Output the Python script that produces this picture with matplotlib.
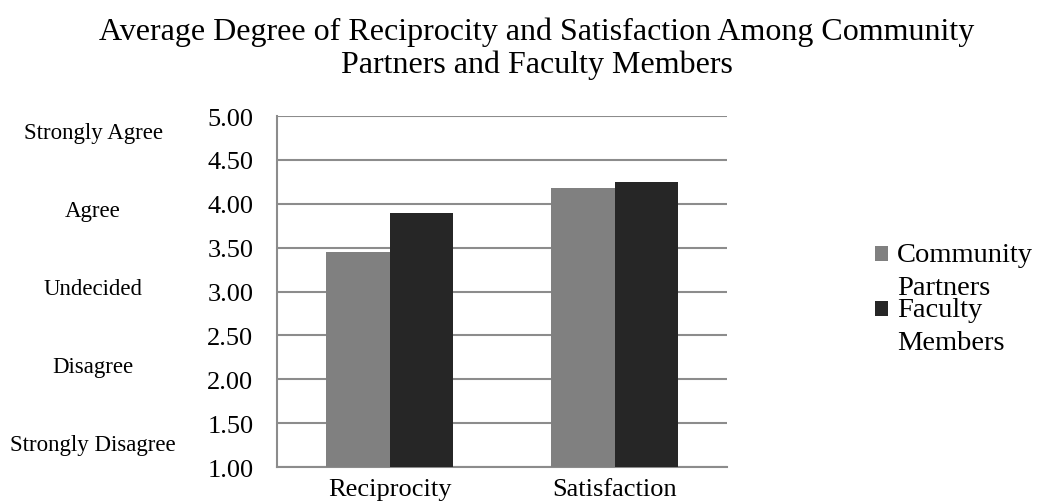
import numpy as np
import matplotlib.pyplot as plt
from matplotlib.patches import Patch
from matplotlib.transforms import blended_transform_factory, IdentityTransform

plt.rcParams['font.family'] = ['Liberation Serif', 'DejaVu Serif']

categories = ['Reciprocity', 'Satisfaction']
community = [3.45, 4.18]
faculty = [3.89, 4.25]
series_names = ['Community\nPartners', 'Faculty\nMembers']
yticks = [1.0, 1.5, 2.0, 2.5, 3.0, 3.5, 4.0, 4.5, 5.0]
scale_labels = ['Strongly Agree', 'Agree', 'Undecided', 'Disagree', 'Strongly Disagree']
scale_pos = [4.81, 3.92, 3.04, 2.15, 1.26]

c_gray = '#808080'
c_dark = '#262626'
grid_c = '#8c8c8c'

fig = plt.figure(figsize=(10.38, 5.02), dpi=100)
ax = fig.add_axes([0.2669, 0.0677, 0.4335, 0.6992])

x = np.arange(len(categories))
w = 0.284
ax.bar(x - w/2, community, w, color=c_gray, zorder=3)
ax.bar(x + w/2, faculty, w, color=c_dark, zorder=3)

ax.set_xlim(-0.5, 1.5)
ax.set_ylim(1.0, 5.0)
ax.set_yticks(yticks)
ax.set_yticklabels(['%.2f' % v for v in yticks])
ax.set_xticks(x)
ax.set_xticklabels(categories)
ax.tick_params(axis='y', length=0, pad=17, labelsize=19)
ax.tick_params(axis='x', length=0, pad=8, labelsize=19)

ax.yaxis.grid(True, color=grid_c, linewidth=1.5, zorder=0)
for s in ['top', 'right']:
    ax.spines[s].set_visible(False)
for s in ['left', 'bottom']:
    ax.spines[s].set_color(grid_c)
    ax.spines[s].set_linewidth(1.5)

# agreement scale labels, x in pixels, y in data units
tr = blended_transform_factory(IdentityTransform(), ax.transData)
for lab, pos in zip(scale_labels, scale_pos):
    ax.text(93, pos, lab, transform=tr, ha='center', va='center', fontsize=16.5)

fig.text(0.5173, 0.903,
         'Average Degree of Reciprocity and Satisfaction Among Community\nPartners and Faculty Members',
         ha='center', va='center', fontsize=23, linespacing=1.12)

handles = [Patch(color=c_gray, linewidth=0), Patch(color=c_dark, linewidth=0)]
leg = fig.legend(handles, series_names, loc='upper left', bbox_to_anchor=(0.843, 0.516),
                 frameon=False, fontsize=20.5, handlelength=0.456, handleheight=0.456,
                 handletextpad=0.32, labelspacing=-0.1, borderpad=0, borderaxespad=0)
for t in leg.get_texts():
    t.set_linespacing(1.42)
# put the swatch beside the first line of each label
for h in leg.legend_handles:
    h.set_y(h.get_y() + 12.3)

fig.savefig('out.png', dpi=100)
